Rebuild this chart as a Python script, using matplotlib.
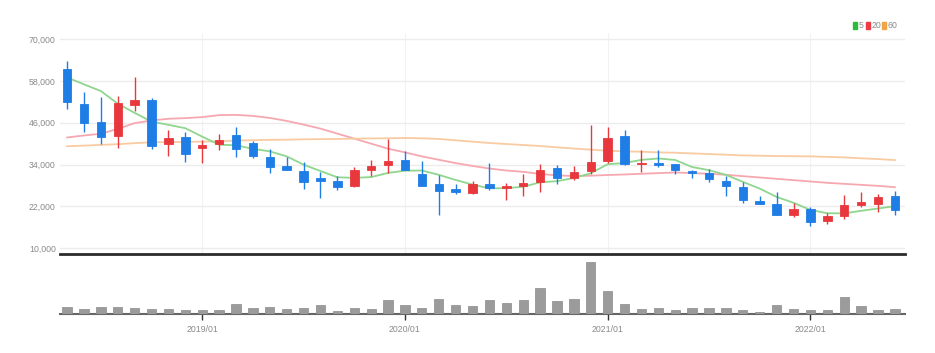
import matplotlib
matplotlib.use('Agg')
import matplotlib.pyplot as plt
from matplotlib.patches import Rectangle
import pandas as pd

months = pd.period_range('2018-05', '2022-06', freq='M').strftime('%Y/%m').tolist()

opens = [61440, 51350, 46250, 42310, 51150, 52690, 39810, 41920, 38650, 40000,
         42500, 40190, 36250, 33560, 32210, 30000, 29140, 27880, 32310, 33750,
         35290, 31350, 28370, 26920, 25870, 28370, 27400, 27980, 28940, 32880,
         30100, 32120, 35000, 42210, 34230, 34520, 34040, 32120, 31540, 29230,
         27600, 23460, 22790, 19620, 21250, 17790, 19230, 22310, 22600, 24900]
highs = [63750, 54710, 53270, 53750, 59040, 52980, 43850, 43370, 40960, 42690,
         44810, 40670, 38560, 36150, 34710, 31830, 30770, 33270, 35380, 41440,
         37790, 34900, 31060, 28460, 29330, 34520, 28560, 31350, 34230, 33850,
         33460, 45480, 44710, 43850, 38080, 38270, 34230, 32500, 32790, 30670,
         28940, 24900, 26150, 23080, 21730, 20000, 25390, 26150, 25580, 26350]
lows = [50000, 43270, 39810, 38850, 49420, 38560, 36440, 34710, 34520, 38080,
        36060, 35770, 31540, 32500, 27120, 24330, 26830, 27500, 30670, 31630,
        32500, 27790, 19620, 25580, 25680, 26830, 23850, 24900, 26060, 28270,
        29420, 31160, 34420, 33850, 31920, 33270, 31160, 30190, 28940, 24900,
        22880, 22690, 19420, 18940, 16440, 16920, 18270, 21730, 20480, 19520]
closes = [51920, 46060, 41920, 51830, 52500, 39330, 41540, 37020, 39710, 40960,
          38460, 36440, 33370, 32500, 29040, 29330, 27500, 32500, 33650, 35000,
          32500, 27790, 26350, 26250, 28270, 27310, 27790, 28560, 32500, 30000,
          31830, 34620, 41540, 34230, 34520, 33850, 32400, 31440, 29710, 27790,
          23850, 22690, 19420, 21350, 17500, 19140, 22400, 23170, 24620, 20960]
volume = [21, 15, 21, 22, 17, 15, 15, 11, 12, 11,
          31, 17, 21, 15, 17, 28, 10, 17, 15, 41,
          28, 17, 46, 28, 23, 43, 33, 43, 78, 38,
          45, 155, 68, 30, 15, 19, 11, 19, 19, 19,
          11, 7, 26, 15, 13, 11, 50, 24, 11, 14]
ma5 = [59050, 57040, 55120, 51500, 48846, 46328, 45424, 44444, 42020, 39712,
       39538, 38518, 37788, 36346, 33962, 32136, 30348, 30174, 30404, 31596,
       32230, 32288, 31058, 29578, 28232, 27194, 27194, 27636, 28886, 29232,
       30136, 31502, 34098, 34444, 35348, 35752, 35308, 33288, 32384, 31038,
       29038, 27096, 24692, 23020, 20962, 20020, 19962, 20712, 21366, 22058]
ma20 = [41780, 42360, 42840, 44270, 45900, 46670, 47150, 47340, 47630, 48200,
        48270, 47980, 47400, 46540, 45480, 44330, 42890, 41440, 40000, 38560,
        37500, 36350, 35380, 34420, 33600, 32850, 32300, 31900, 31300, 30900,
        30700, 30800, 31000, 31150, 31350, 31540, 31730, 31540, 31350, 31060,
        30670, 30290, 29900, 29520, 29140, 28750, 28460, 28170, 27880, 27500]
ma60 = [39250, 39450, 39650, 39850, 40150, 40400, 40450, 40500, 40600, 40670,
        40900, 41000, 41100, 41150, 41250, 41300, 41350, 41450, 41500, 41550,
        41640, 41550, 41350, 40960, 40580, 40190, 39900, 39620, 39330, 38950,
        38600, 38270, 37980, 37790, 37690, 37500, 37400, 37210, 37020, 36830,
        36630, 36540, 36440, 36400, 36350, 36200, 36060, 35800, 35580, 35290]
price_ticks = [10000, 22000, 34000, 46000, 58000, 70000]
legend_labels = ['5', '20', '60']

UP = '#e8383d'
DOWN = '#1f7de6'
MA_COLORS = ['#8fd68f', '#f6a8b0', '#f9cba2']
LEG_COLORS = ['#2dbb3a', '#ee3a45', '#f2a446']
TXT = '#8a8a8a'

plt.rcParams['font.family'] = ['Liberation Sans', 'DejaVu Sans']

fig = plt.figure(figsize=(9.35, 3.53), dpi=100)
axp = fig.add_axes([60/935, 1-254/353, 845/935, 221/353])
axv = fig.add_axes([60/935, 1-314/353, 845/935, 58/353])

x = list(range(len(months)))
tick_idx = [i for i, m in enumerate(months) if m.endswith('/01')]
tick_lab = [months[i] for i in tick_idx]

# price
for i in x:
    o, h, l, c = opens[i], highs[i], lows[i], closes[i]
    col = UP if c >= o else DOWN
    axp.vlines(i, l, h, color=col, lw=1.0, zorder=3)
    bot = min(o, c)
    ht = max(abs(c - o), 250)
    axp.bar(i, ht, bottom=bot, width=0.5, color=col, edgecolor=col, lw=0.6, zorder=4)

for arr, col in zip([ma20, ma60, ma5], [MA_COLORS[1], MA_COLORS[2], MA_COLORS[0]]):
    axp.plot(x, arr, color=col, lw=1.3, zorder=2)

axp.set_xlim(-0.42, 49.6)
axp.set_ylim(8300, 71800)
axp.set_yticks(price_ticks)
axp.set_yticklabels([f'{v:,}' for v in price_ticks])
axp.set_xticks(tick_idx)
axp.tick_params(axis='x', length=0, labelbottom=False)
axp.tick_params(axis='y', length=0, labelsize=6.3, colors=TXT, pad=3)
axp.grid(True, axis='y', color='#ececec', lw=1.0, zorder=0)
axp.grid(True, axis='x', color='#f2f2f2', lw=0.8, zorder=0)
for s in ['top', 'right', 'left']:
    axp.spines[s].set_visible(False)
axp.spines['bottom'].set_color('#2b2b2b')
axp.spines['bottom'].set_linewidth(2.0)

# volume
axv.bar(x, volume, width=0.55, color='#9b9b9b', edgecolor='#8a8a8a', lw=0.5, zorder=3)
axv.set_xlim(-0.42, 49.6)
axv.set_ylim(0, 174)
axv.set_yticks([])
axv.set_xticks(tick_idx)
axv.set_xticklabels(tick_lab)
axv.tick_params(axis='x', length=4, width=1, color='#333333', labelsize=6.3,
                labelcolor=TXT, pad=4)
for s in ['top', 'right', 'left']:
    axv.spines[s].set_visible(False)
axv.spines['bottom'].set_color('#666666')
axv.spines['bottom'].set_linewidth(1.5)

# legend
lx = [853, 866, 882]
for xx, lab, col in zip(lx, legend_labels, LEG_COLORS):
    fig.patches.append(Rectangle((xx/935, 1-29/353), 4/935, 7/353,
                                 transform=fig.transFigure, color=col))
    fig.text((xx+5.5)/935, 1-25.5/353, lab, color=TXT, fontsize=6.3,
             va='center', ha='left')

fig.savefig('out.png', dpi=100, facecolor='white')
